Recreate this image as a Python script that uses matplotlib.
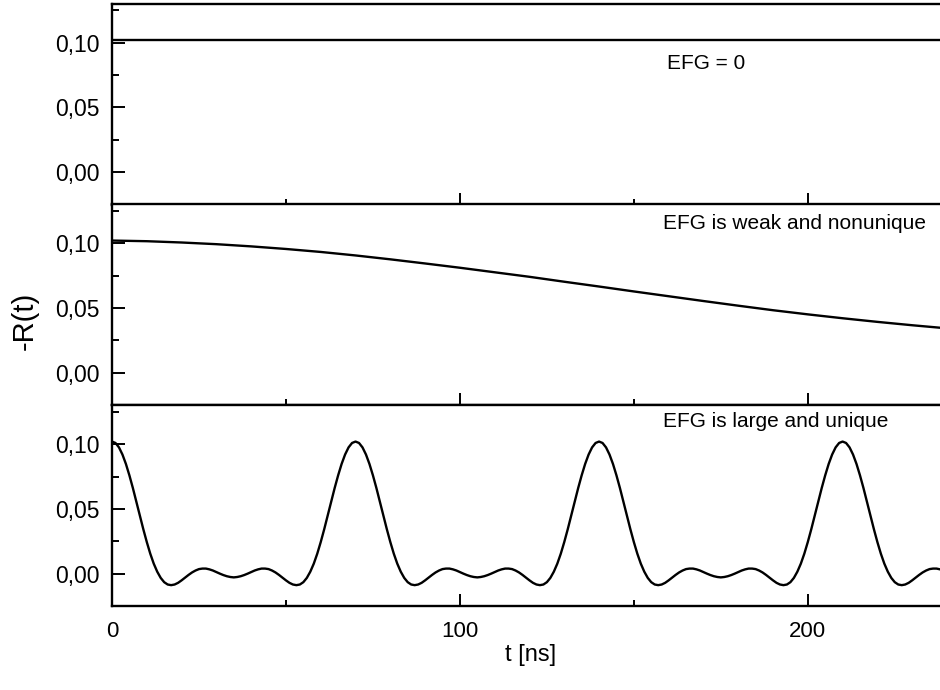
import matplotlib
matplotlib.use("Agg")
import matplotlib.pyplot as plt
import numpy as np
from matplotlib.ticker import MultipleLocator, FuncFormatter

plt.rcParams['font.family'] = ['Liberation Sans', 'DejaVu Sans']

# panel labels, top to bottom
labels = ["EFG = 0", "EFG is weak and nonunique", "EFG is large and unique"]

# EFG = 0: no perturbation, constant anisotropy
t_zero = [0, 240]
r_zero = [0.102, 0.102]

# weak, nonunique EFG: slow damping (10 ns steps)
t_weak = [0, 10, 20, 30, 40, 50, 60, 70, 80, 90, 100, 110, 120,
          130, 140, 150, 160, 170, 180, 190, 200, 210, 220, 230, 240]
r_weak = [0.1020, 0.1015, 0.1005, 0.0992, 0.0975, 0.0955, 0.0932, 0.0905,
          0.0875, 0.0843, 0.0810, 0.0775, 0.0740, 0.0702, 0.0665, 0.0627,
          0.0590, 0.0553, 0.0517, 0.0482, 0.0450, 0.0420, 0.0392, 0.0366,
          0.0342]

# large, unique EFG: periodic modulation (1 ns steps, 0..238 ns)
t_large = np.arange(0, 239)
r_large = [
    # 0 - 69 ns
    0.1020, 0.1009, 0.0975, 0.0920, 0.0847, 0.0759, 0.0661, 0.0555, 0.0448, 0.0343,
    0.0244, 0.0154, 0.0077, 0.0015, -0.0033, -0.0066, -0.0084, -0.0089, -0.0084, -0.0071,
    -0.0052, -0.0031, -0.0010, 0.0009, 0.0024, 0.0035, 0.0039, 0.0039, 0.0033, 0.0024,
    0.0012, 0.0000, -0.0011, -0.0020, -0.0026, -0.0029, -0.0026, -0.0020, -0.0011, 0.0000,
    0.0012, 0.0024, 0.0033, 0.0039, 0.0039, 0.0035, 0.0024, 0.0009, -0.0010, -0.0031,
    -0.0052, -0.0071, -0.0084, -0.0089, -0.0084, -0.0066, -0.0033, 0.0015, 0.0077, 0.0154,
    0.0244, 0.0343, 0.0448, 0.0555, 0.0661, 0.0759, 0.0847, 0.0920, 0.0975, 0.1009,
    # 70 - 139 ns
    0.1020, 0.1009, 0.0975, 0.0920, 0.0847, 0.0759, 0.0661, 0.0555, 0.0448, 0.0343,
    0.0244, 0.0154, 0.0077, 0.0015, -0.0033, -0.0066, -0.0084, -0.0089, -0.0084, -0.0071,
    -0.0052, -0.0031, -0.0010, 0.0009, 0.0024, 0.0035, 0.0039, 0.0039, 0.0033, 0.0024,
    0.0012, 0.0000, -0.0011, -0.0020, -0.0026, -0.0029, -0.0026, -0.0020, -0.0011, 0.0000,
    0.0012, 0.0024, 0.0033, 0.0039, 0.0039, 0.0035, 0.0024, 0.0009, -0.0010, -0.0031,
    -0.0052, -0.0071, -0.0084, -0.0089, -0.0084, -0.0066, -0.0033, 0.0015, 0.0077, 0.0154,
    0.0244, 0.0343, 0.0448, 0.0555, 0.0661, 0.0759, 0.0847, 0.0920, 0.0975, 0.1009,
    # 140 - 209 ns
    0.1020, 0.1009, 0.0975, 0.0920, 0.0847, 0.0759, 0.0661, 0.0555, 0.0448, 0.0343,
    0.0244, 0.0154, 0.0077, 0.0015, -0.0033, -0.0066, -0.0084, -0.0089, -0.0084, -0.0071,
    -0.0052, -0.0031, -0.0010, 0.0009, 0.0024, 0.0035, 0.0039, 0.0039, 0.0033, 0.0024,
    0.0012, 0.0000, -0.0011, -0.0020, -0.0026, -0.0029, -0.0026, -0.0020, -0.0011, 0.0000,
    0.0012, 0.0024, 0.0033, 0.0039, 0.0039, 0.0035, 0.0024, 0.0009, -0.0010, -0.0031,
    -0.0052, -0.0071, -0.0084, -0.0089, -0.0084, -0.0066, -0.0033, 0.0015, 0.0077, 0.0154,
    0.0244, 0.0343, 0.0448, 0.0555, 0.0661, 0.0759, 0.0847, 0.0920, 0.0975, 0.1009,
    # 210 - 238 ns
    0.1020, 0.1009, 0.0975, 0.0920, 0.0847, 0.0759, 0.0661, 0.0555, 0.0448, 0.0343,
    0.0244, 0.0154, 0.0077, 0.0015, -0.0033, -0.0066, -0.0084, -0.0089, -0.0084, -0.0071,
    -0.0052, -0.0031, -0.0010, 0.0009, 0.0024, 0.0035, 0.0039, 0.0039, 0.0033,
]

series = [(t_zero, r_zero), (t_weak, r_weak), (t_large, r_large)]

fig = plt.figure(figsize=(9.4, 6.9), dpi=100)

left = 112 / 940
width = 1 - left
h = 200.7 / 690
bottoms = [1 - 204.5 / 690, 1 - 405 / 690, 1 - 606 / 690]

comma = FuncFormatter(lambda v, pos: ("%.2f" % v).replace(".", ","))

axes = []
for i in range(3):
    ax = fig.add_axes([left, bottoms[i], width, h])
    t, r = series[i]
    ax.plot(t, r, color='black', lw=1.7)
    ax.set_xlim(0, 238)
    ax.set_ylim(-0.025, 0.13)
    ax.xaxis.set_major_locator(MultipleLocator(100))
    ax.xaxis.set_minor_locator(MultipleLocator(50))
    ax.yaxis.set_major_locator(MultipleLocator(0.05))
    ax.yaxis.set_minor_locator(MultipleLocator(0.025))
    ax.yaxis.set_major_formatter(comma)
    ax.tick_params(axis='both', which='both', direction='in', width=1.4,
                   top=False, right=False, labelsize=16)
    ax.tick_params(axis='y', which='major', length=9.5, pad=9, labelsize=16.5)
    ax.tick_params(axis='y', which='minor', length=5)
    ax.tick_params(axis='x', which='major', length=8.5, pad=11)
    ax.tick_params(axis='x', which='minor', length=4.5)
    for s in ['left', 'top', 'bottom']:
        ax.spines[s].set_linewidth(1.7)
    ax.spines['right'].set_visible(False)
    if i < 2:
        ax.tick_params(axis='x', labelbottom=False)
    axes.append(ax)

axes[0].text(159.5, 0.0838, labels[0], fontsize=15, va='center', ha='left')
axes[1].text(158.5, 0.1151, labels[1], fontsize=15, va='center', ha='left')
axes[2].text(158.3, 0.1172, labels[2], fontsize=15, va='center', ha='left')

fig.text(531 / 940, 1 - 655 / 690, "t [ns]", fontsize=17, ha='center', va='center')
fig.text(25 / 940, 1 - 321 / 690, "-R(t)", fontsize=21, rotation=90,
         ha='center', va='center')

fig.savefig("out.png", dpi=100)
